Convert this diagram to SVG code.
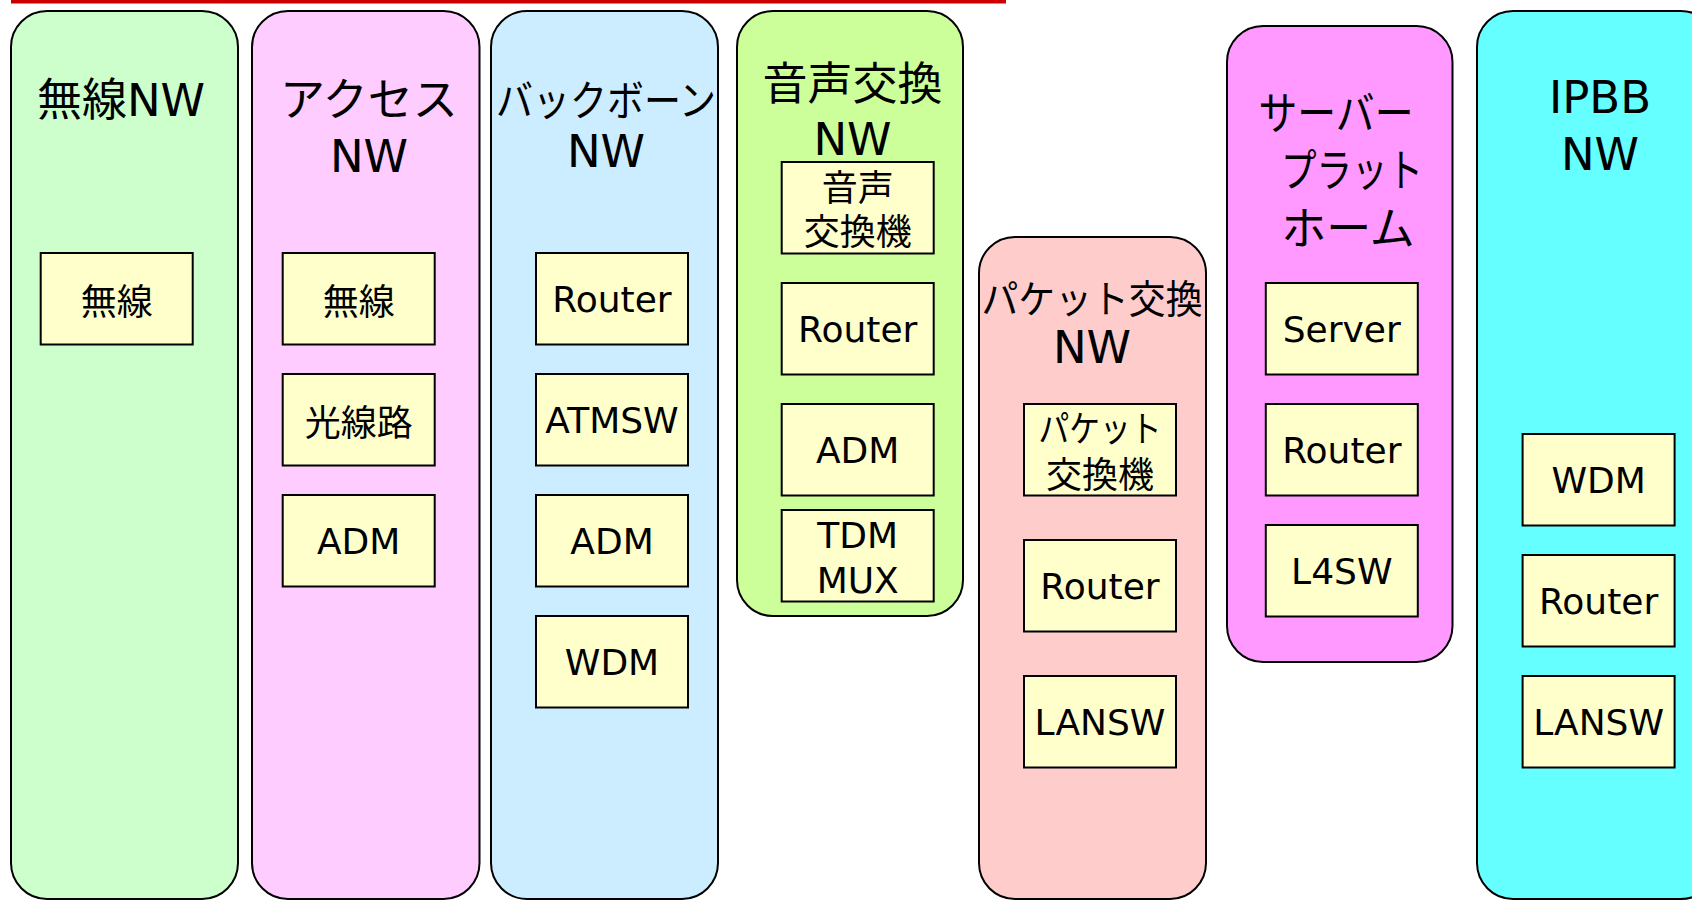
<svg xmlns="http://www.w3.org/2000/svg" width="1692" height="901" viewBox="0 0 1692 901">
<style>
.col{stroke:#000;stroke-width:2}
.box{fill:#FFFFCC;stroke:#000;stroke-width:2}
text{font-family:"DejaVu Sans","Noto Sans CJK JP",sans-serif;fill:#000;text-anchor:middle}
.t{font-size:45px}
.b{font-size:36px}
</style>
<rect x="11" y="0" width="995" height="3.5" fill="#CC0000"/>
<g id="connectors"/>
<g id="wireless-nw">
<rect class="col" x="11" y="11" width="227" height="888" rx="36" fill="#CCFFCC"/>
<text class="t" x="121" y="116">無線NW</text>
<g id="wireless-nw-radio"><rect class="box" x="40.7" y="253" width="152" height="91.5"/><text class="b" x="116.7" y="315">無線</text></g>
</g>
<g id="access-nw">
<rect class="col" x="252" y="11" width="227.5" height="888" rx="36" fill="#FFCCFF"/>
<text class="t" x="369" y="116">アクセス</text>
<text class="t" x="369" y="172">NW</text>
<g id="access-radio"><rect class="box" x="282.7" y="253" width="152" height="91.5"/><text class="b" x="358.7" y="315">無線</text></g>
<g id="access-fiber"><rect class="box" x="282.7" y="374" width="152" height="91.5"/><text class="b" x="358.7" y="436">光線路</text></g>
<g id="access-adm"><rect class="box" x="282.7" y="495" width="152" height="91.5"/><text class="b" x="358.7" y="554">ADM</text></g>
</g>
<g id="backbone-nw">
<rect class="col" x="491" y="11" width="227" height="888" rx="36" fill="#CCECFF"/>
<text font-size="42" x="606" y="116" textLength="220" lengthAdjust="spacingAndGlyphs">バックボーン</text>
<text class="t" x="606" y="167">NW</text>
<g id="backbone-router"><rect class="box" x="536" y="253" width="152" height="91.5"/><text class="b" x="612" y="312">Router</text></g>
<g id="backbone-atmsw"><rect class="box" x="536" y="374" width="152" height="91.5"/><text class="b" x="612" y="433">ATMSW</text></g>
<g id="backbone-adm"><rect class="box" x="536" y="495" width="152" height="91.5"/><text class="b" x="612" y="554">ADM</text></g>
<g id="backbone-wdm"><rect class="box" x="536" y="616" width="152" height="91.5"/><text class="b" x="612" y="675">WDM</text></g>
</g>
<g id="voice-nw">
<rect class="col" x="737" y="11" width="226" height="605" rx="36" fill="#CCFF99"/>
<text class="t" x="852.5" y="100">音声交換</text>
<text class="t" x="852.5" y="155">NW</text>
<g id="voice-switch"><rect class="box" x="781.7" y="162" width="152" height="91.5"/><text class="b" x="857.7" y="201">音声</text><text class="b" x="857.7" y="245">交換機</text></g>
<g id="voice-router"><rect class="box" x="781.7" y="283" width="152" height="91.5"/><text class="b" x="857.7" y="342">Router</text></g>
<g id="voice-adm"><rect class="box" x="781.7" y="404" width="152" height="91.5"/><text class="b" x="857.7" y="463">ADM</text></g>
<g id="voice-tdm"><rect class="box" x="781.7" y="510" width="152" height="91.5"/><text class="b" x="857.7" y="548">TDM</text><text class="b" x="857.7" y="593">MUX</text></g>
</g>
<g id="packet-nw">
<rect class="col" x="979" y="237" width="227" height="662" rx="36" fill="#FFCCCC"/>
<text font-size="39" x="1092" y="313" textLength="221" lengthAdjust="spacingAndGlyphs">パケット交換</text>
<text class="t" x="1092" y="363">NW</text>
<g id="packet-switch"><rect class="box" x="1024" y="404" width="152" height="91.5"/><text class="b" x="1100" y="442" textLength="123" lengthAdjust="spacingAndGlyphs">パケット</text><text class="b" x="1100" y="488">交換機</text></g>
<g id="packet-router"><rect class="box" x="1024" y="540" width="152" height="91.5"/><text class="b" x="1100" y="599">Router</text></g>
<g id="packet-lansw"><rect class="box" x="1024" y="676" width="152" height="91.5"/><text class="b" x="1100" y="735">LANSW</text></g>
</g>
<g id="server-platform">
<rect class="col" x="1227" y="26" width="225.5" height="636" rx="36" fill="#FF99FF"/>
<text class="t" x="1336" y="130" textLength="155" lengthAdjust="spacingAndGlyphs">サーバー</text>
<text class="t" x="1352" y="187" textLength="142" lengthAdjust="spacingAndGlyphs">プラット</text>
<text class="t" x="1348" y="245">ホーム</text>
<g id="server-server"><rect class="box" x="1265.8" y="283" width="152" height="91.5"/><text class="b" x="1341.8" y="342">Server</text></g>
<g id="server-router"><rect class="box" x="1265.8" y="404" width="152" height="91.5"/><text class="b" x="1341.8" y="463">Router</text></g>
<g id="server-l4sw"><rect class="box" x="1265.8" y="525" width="152" height="91.5"/><text class="b" x="1341.8" y="584">L4SW</text></g>
</g>
<g id="ipbb-nw">
<rect class="col" x="1477" y="11" width="240" height="888" rx="36" fill="#66FFFF"/>
<text class="t" x="1600" y="113">IPBB</text>
<text class="t" x="1600" y="170">NW</text>
<g id="ipbb-wdm"><rect class="box" x="1522.6" y="434" width="152" height="91.5"/><text class="b" x="1598.6" y="493">WDM</text></g>
<g id="ipbb-router"><rect class="box" x="1522.6" y="555" width="152" height="91.5"/><text class="b" x="1598.6" y="614">Router</text></g>
<g id="ipbb-lansw"><rect class="box" x="1522.6" y="676" width="152" height="91.5"/><text class="b" x="1598.6" y="735">LANSW</text></g>
</g>
</svg>
